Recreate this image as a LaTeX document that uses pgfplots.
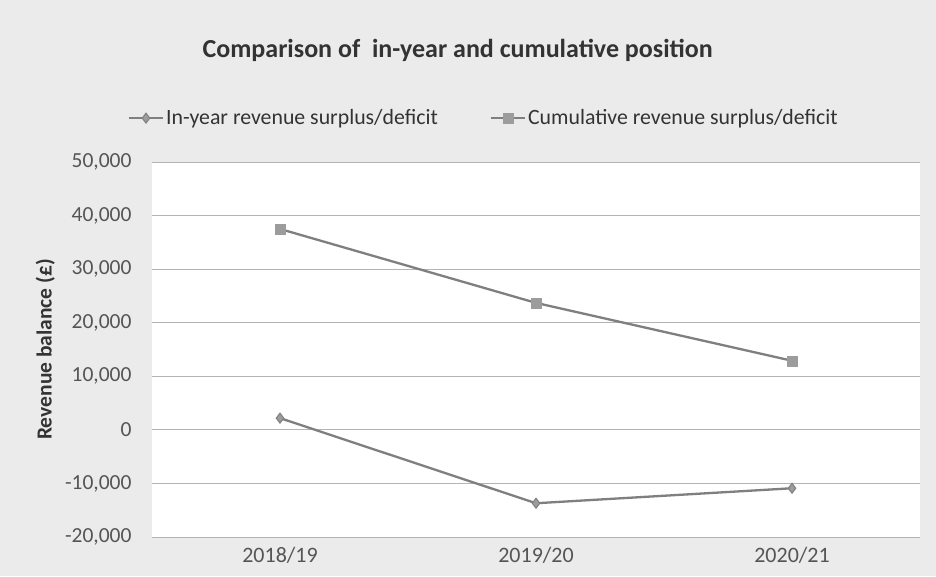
\documentclass[border=0pt]{standalone}
\usepackage{fontspec}
\setmainfont{Carlito}
\usepackage{pgfplots}
\pgfplotsset{compat=1.18}
\definecolor{bg}{HTML}{EBEBEB}
\definecolor{txt}{HTML}{333333}
\definecolor{tick}{HTML}{555555}
\definecolor{ln}{HTML}{7F7F7F}
\definecolor{mk}{HTML}{9C9C9C}
\definecolor{gridc}{HTML}{B4B4B4}
\pgfplotstableread{
x inyear cumul
0 2190 37500
1 -13700 23700
2 -10900 12900
}\datatab
\begin{document}
\begin{tikzpicture}[x=1pt,y=1pt]
\fill[bg] (0,0) rectangle (936,576);
\fill[white] (152,39) rectangle (920,414);
\begin{axis}[
  at={(152pt,39pt)}, anchor=south west,
  scale only axis, width=768pt, height=375pt,
  xmin=-0.5, xmax=2.5, ymin=-20000, ymax=50000,
  ytick={-20000,-10000,...,50000},
  xtick={0,1,2}, xticklabels={2018/19,2019/20,2020/21},
  separate axis lines,
  every outer x axis line/.style={draw=none},
  every outer y axis line/.style={draw=none},
  axis line style={draw=none},
  major tick length=0pt,
  ymajorgrids, grid style={gridc, line width=0.9pt},
  /pgf/number format/assume math mode=true,
  scaled y ticks=false,
  yticklabel style={/pgf/number format/1000 sep={,}, font=\fontsize{21.5}{24}\selectfont, text=tick, xshift=-17pt},
  xticklabel style={font=\fontsize{22}{24}\selectfont, text=tick, yshift=-7pt},
  ylabel={Revenue balance (£)},
  ylabel style={at={(axis description cs:-0.139,0.5)}, anchor=center, font=\bfseries\fontsize{21.5}{24}\selectfont, text=txt},
  title={Comparison of\ \ in-year and cumulative position},
  title style={at={(axis description cs:0.398,1.264)}, anchor=base, font=\bfseries\fontsize{26}{30}\selectfont, text=txt},
  legend style={at={(axis description cs:0.432,1.117)}, anchor=center, draw=none, fill=none,
    font=\fontsize{21.8}{24}\selectfont, text=txt, legend columns=2,
    /tikz/every even column/.append style={column sep=50pt}},
  legend image code/.code={\draw[mark repeat=2,mark phase=2,#1] plot coordinates {(0pt,0pt) (17pt,0pt) (34pt,0pt)};},
]
\addplot[ln, line width=2.3pt, mark=diamond*, mark size=5pt, mark options={fill=mk, draw=ln, line width=1pt}] table[x=x,y=inyear] {\datatab};
\addlegendentry{In-year revenue surplus/deficit}
\addplot[ln, line width=2.3pt, mark=square*, mark size=5pt, mark options={fill=mk, draw=mk, line width=0.5pt}] table[x=x,y=cumul] {\datatab};
\addlegendentry{Cumulative revenue surplus/deficit}
\end{axis}
\end{tikzpicture}
\end{document}
